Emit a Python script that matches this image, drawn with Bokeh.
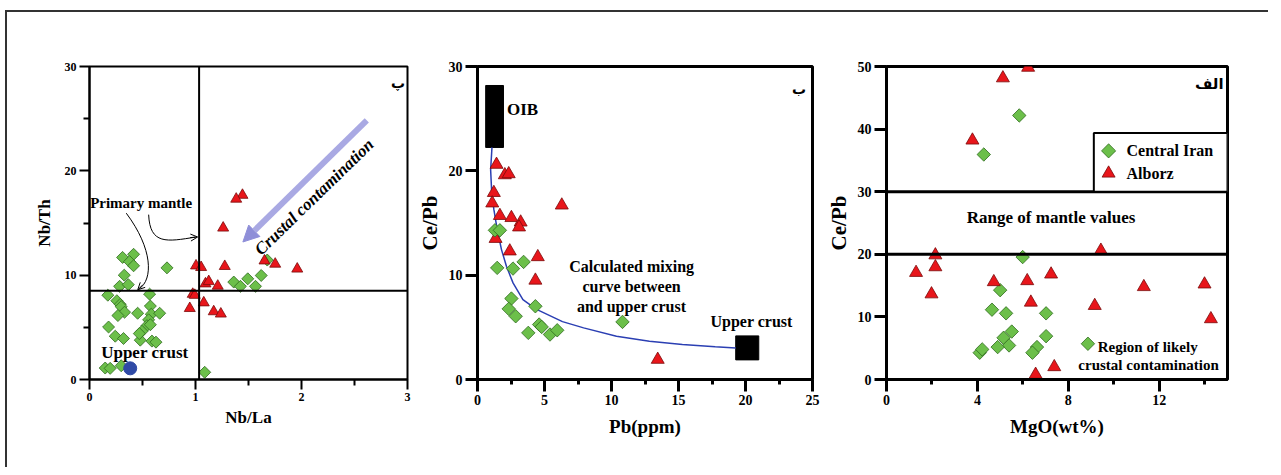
import numpy as np
from bokeh.plotting import figure
from bokeh.layouts import row
from bokeh.models import (FixedTicker, Label, Arrow, NormalHead, OpenHead, Span,
                          BoxAnnotation, Range1d)
from bokeh.embed import file_html
from bokeh.resources import INLINE

SERIF = "Liberation Serif"
GREEN, GREEN_LINE = "#6cbf4a", "#2e6b1e"
RED, RED_LINE = "#e8161b", "#7a0a0a"

# ---------------- Panel پ : Nb/La vs Nb/Th ----------------
p1_ci_nbla = [0.416, 0.312, 0.378, 0.416, 0.731, 0.328, 0.284, 0.366, 0.567, 0.173,
              0.258, 0.290, 0.299, 0.331, 0.268, 0.454, 0.574, 0.583, 0.662, 0.558,
              0.542, 0.574, 0.495, 0.180, 0.243, 0.321, 0.479, 0.589, 0.627, 0.148,
              0.195, 0.299, 1.087, 1.361, 1.424, 1.493, 1.566, 1.620, 1.677, 0.470]
p1_ci_nbth = [12.0, 11.7, 11.3, 10.9, 10.7, 10.0, 8.93, 9.09, 8.18, 8.08,
              7.55, 7.2, 6.98, 6.45, 6.13, 6.35, 7.04, 6.26, 6.35, 5.72,
              5.16, 5.25, 4.62, 5.03, 4.15, 3.93, 3.77, 3.68, 3.58, 1.10,
              1.07, 1.32, 0.69, 9.34, 8.93, 9.65, 8.93, 9.97, 11.45, 4.40]
p1_al_nbla = [1.443, 1.384, 1.261, 1.005, 1.053, 1.276, 1.651, 1.752, 1.960, 1.094,
              1.125, 1.210, 0.974, 0.993, 1.078, 0.946, 1.172, 1.239]
p1_al_nbth = [17.67, 17.3, 14.53, 10.9, 10.75, 10.85, 11.38, 11.07, 10.6, 9.18,
              9.4, 8.96, 8.18, 8.08, 7.36, 6.82, 6.51, 6.29]
p1_crust_nbla = [0.384]
p1_crust_nbth = [1.07]
p1_hline = 8.5
p1_vline = 1.034

# ---------------- Panel ب : Pb vs Ce/Pb ----------------
p2_al_pb = [1.42, 2.04, 2.33, 1.22, 1.10, 6.29, 1.67, 2.53, 3.22, 3.10, 1.35, 2.41,
            4.50, 4.32, 13.45]
p2_al_cepb = [20.6, 19.6, 19.7, 17.9, 16.9, 16.7, 15.7, 15.5, 15.07, 14.6, 13.5, 12.3,
              11.75, 9.5, 1.91]
p2_ci_pb = [1.30, 1.67, 1.47, 2.65, 3.44, 2.53, 2.33, 2.85, 3.79, 4.32, 4.60, 4.79,
            5.41, 5.95, 10.82]
p2_ci_cepb = [14.3, 14.3, 10.7, 10.63, 11.27, 7.76, 6.77, 6.06, 4.47, 7.02, 5.27, 5.04,
              4.31, 4.72, 5.52]
oib_pb = (0.61, 1.94)
oib_cepb = (22.24, 28.18)
uc_pb = (19.27, 20.99)
uc_cepb = (1.88, 4.18)
mix_pb = [1.08, 0.98, 1.05, 1.22, 1.47, 1.79, 2.16, 2.65, 3.39, 4.37, 6.34, 7.92,
          10.37, 12.83, 15.29, 17.74, 19.27]
mix_cepb = [22.25, 20.1, 18.2, 16.3, 14.4, 12.45, 10.85, 9.26, 7.66, 6.75, 5.55, 4.95,
            4.15, 3.67, 3.35, 3.13, 3.03]

# ---------------- Panel الف : MgO vs Ce/Pb ----------------
p3_al_mgo = [6.23, 5.12, 3.78, 2.15, 9.43, 1.30, 2.15, 1.98, 4.72, 6.19, 7.24, 6.35,
             9.16, 11.32, 13.99, 14.27, 7.38, 6.56]
p3_al_cepb = [49.84, 48.15, 38.21, 19.87, 20.61, 17.07, 17.97, 13.64, 15.59, 15.75,
              16.81, 12.32, 11.79, 14.80, 15.22, 9.67, 2.01, 0.79]
p3_ci_mgo = [5.84, 4.28, 5.99, 5.00, 4.64, 5.26, 7.02, 5.51, 5.15, 7.02, 5.39, 4.89,
             6.62, 6.42, 4.10, 4.21, 8.86]
p3_ci_cepb = [42.18, 35.94, 19.56, 14.27, 11.15, 10.57, 10.57, 7.66, 6.66, 6.92, 5.44,
              5.18, 5.18, 4.28, 4.28, 4.81, 5.71]
mantle_range = (20, 30)
legend_labels = ["Central Iran", "Alborz"]

# legend box placement (data units of panel الف)
LEG_BOX = dict(left=9.12, right=15.0, bottom=30.0, top=39.38)
LEG_KEY_X, LEG_TEXT_X = 9.77, 10.56
LEG_ROWS_Y = [36.52, 32.93]


def style(p, lw, tick_px, maj_out, min_out):
    p.outline_line_color = "black"
    p.outline_line_width = lw
    p.xgrid.visible = False
    p.ygrid.visible = False
    p.background_fill_color = "white"
    p.border_fill_color = "white"
    for ax in (p.xaxis[0], p.yaxis[0]):
        ax.axis_line_width = lw
        ax.major_tick_line_width = lw
        ax.minor_tick_line_width = lw
        ax.major_tick_in = 0
        ax.minor_tick_in = 0
        ax.major_tick_out = maj_out
        ax.minor_tick_out = min_out
        ax.major_label_text_font = SERIF
        ax.major_label_text_font_style = "bold"
        ax.major_label_text_font_size = f"{tick_px}px"
        ax.major_label_text_color = "black"
        ax.major_label_standoff = 3
        ax.axis_label_text_font = SERIF
        ax.axis_label_text_font_style = "bold"
        ax.axis_label_text_color = "black"


def lab(p, x, y, text, size, align="left", baseline="middle", style_="bold",
        font=SERIF, angle=0.0):
    p.add_layout(Label(x=x, y=y, text=text, text_font=font, text_font_style=style_,
                       text_font_size=f"{size}px", text_align=align,
                       text_baseline=baseline, angle=angle, text_color="black"))


# ======================= Figure 1 =======================
p1 = figure(width=407, height=455, output_backend="svg", toolbar_location=None,
            x_range=Range1d(0, 3), y_range=Range1d(0, 30),
            min_border_left=82, min_border_right=7, min_border_top=52,
            min_border_bottom=81)
style(p1, 2, 12, 10, 6)
p1.xaxis.ticker = FixedTicker(ticks=[0, 1, 2, 3], minor_ticks=[0.5, 1.5, 2.5])
p1.yaxis.ticker = FixedTicker(ticks=[0, 10, 20, 30], minor_ticks=[5, 15, 25])
p1.xaxis.axis_label = "Nb/La"
p1.yaxis.axis_label = "Nb/Th"
p1.xaxis.axis_label_text_font_size = "17px"
p1.yaxis.axis_label_text_font_size = "17px"
p1.xaxis.axis_label_standoff = 4
p1.yaxis.axis_label_standoff = 8

p1.add_layout(Span(location=p1_hline, dimension="width", line_color="black", line_width=2))
p1.add_layout(Span(location=p1_vline, dimension="height", line_color="black", line_width=2))

p1.scatter(p1_ci_nbla, p1_ci_nbth, marker="square", angle=np.pi / 4, size=8.5,
           fill_color=GREEN, line_color=GREEN_LINE, line_width=0.8)
p1.scatter(p1_al_nbla, p1_al_nbth, marker="triangle", size=11,
           fill_color=RED, line_color=RED_LINE, line_width=0.8)
p1.scatter(p1_crust_nbla, p1_crust_nbth, marker="circle", size=13,
           fill_color="#2f4aa6", line_color="#2f4aa6")

# crustal contamination arrow
p1.add_layout(Arrow(x_start=2.616, y_start=24.84, x_end=1.447, y_end=13.18,
                    line_color="#a9a9e3", line_width=6,
                    end=NormalHead(size=16, fill_color="#8f8fd8", line_color="#8f8fd8")))
lab(p1, 2.12, 17.5, "Crustal contamination", 17, align="center",
    style_="bold italic", angle=0.77)

# primary mantle curves
p1.bezier(x0=[0.347], y0=[15.94], x1=[0.47], y1=[8.7],
          cx0=[0.60], cy0=[12.5], cx1=[0.60], cy1=[9.6],
          line_color="black", line_width=1)
p1.add_layout(Arrow(x_start=0.50, y_start=9.05, x_end=0.455, y_end=8.6,
                    line_color="black", line_width=1,
                    end=OpenHead(size=7, line_color="black", line_width=1)))
p1.bezier(x0=[0.558], y0=[15.8], x1=[1.0], y1=[13.65],
          cx0=[0.57], cy0=[12.9], cx1=[0.73], cy1=[13.2],
          line_color="black", line_width=1)
p1.add_layout(Arrow(x_start=0.95, y_start=13.6, x_end=1.02, y_end=13.66,
                    line_color="black", line_width=1,
                    end=OpenHead(size=7, line_color="black", line_width=1)))

lab(p1, 0.006, 16.9, "Primary mantle", 15)
lab(p1, 0.11, 2.6, "Upper crust", 17)
lab(p1, 2.91, 28.4, "پ", 14, align="center", font="DejaVu Sans")

# ======================= Figure 2 =======================
p2 = figure(width=409, height=455, output_backend="svg", toolbar_location=None,
            x_range=Range1d(0, 25), y_range=Range1d(0, 30),
            min_border_left=59, min_border_right=11, min_border_top=54,
            min_border_bottom=87)
style(p2, 3, 14, 12, 5)
p2.xaxis.ticker = FixedTicker(ticks=[0, 5, 10, 15, 20, 25],
                              minor_ticks=[2.5, 7.5, 12.5, 17.5, 22.5])
p2.yaxis.ticker = FixedTicker(ticks=[0, 10, 20, 30])
p2.yaxis.axis_label = "Ce/Pb"
p2.yaxis.axis_label_text_font_size = "21px"
p2.yaxis.axis_label_standoff = 4
p2.xaxis.axis_label = "Pb(ppm)"
p2.xaxis.axis_label_text_font_size = "19px"
p2.xaxis.axis_label_standoff = 8

p2.quad(left=[oib_pb[0], uc_pb[0]], right=[oib_pb[1], uc_pb[1]],
        bottom=[oib_cepb[0], uc_cepb[0]], top=[oib_cepb[1], uc_cepb[1]],
        fill_color="black", line_color="black")
p2.line(mix_pb, mix_cepb, line_color="#2b3fb3", line_width=1.5)
p2.scatter(p2_al_pb, p2_al_cepb, marker="triangle", size=13,
           fill_color=RED, line_color=RED_LINE, line_width=0.8)
p2.scatter(p2_ci_pb, p2_ci_cepb, marker="square", angle=np.pi / 4, size=9.5,
           fill_color=GREEN, line_color=GREEN_LINE, line_width=0.8)

lab(p2, 2.2, 25.85, "OIB", 17)
lab(p2, 20.45, 5.55, "Upper crust", 16, align="center")
lab(p2, 11.5, 10.85, "Calculated mixing", 16, align="center")
lab(p2, 11.5, 8.9, "curve between", 16, align="center")
lab(p2, 11.5, 6.97, "and upper crust", 16, align="center")
lab(p2, 24.0, 27.8, "ب", 14, align="center", font="DejaVu Sans")

# ======================= Figure 3 =======================
p3 = figure(width=445, height=455, output_backend="svg", toolbar_location=None,
            x_range=Range1d(0, 15), y_range=Range1d(0, 50),
            min_border_left=58, min_border_right=41, min_border_top=50,
            min_border_bottom=88)
style(p3, 3, 14, 12, 5)
p3.xaxis.ticker = FixedTicker(ticks=[0, 4, 8, 12], minor_ticks=[2, 6, 10, 14])
p3.yaxis.ticker = FixedTicker(ticks=[0, 10, 20, 30, 40, 50])
p3.yaxis.axis_label = "Ce/Pb"
p3.yaxis.axis_label_text_font_size = "21px"
p3.yaxis.axis_label_standoff = 4
p3.xaxis.axis_label = "MgO(wt%)"
p3.xaxis.axis_label_text_font_size = "19px"
p3.xaxis.axis_label_standoff = 8

for yv in mantle_range:
    p3.add_layout(Span(location=yv, dimension="width", line_color="black", line_width=3))

p3.scatter(p3_ci_mgo, p3_ci_cepb, marker="square", angle=np.pi / 4, size=9.5,
           fill_color=GREEN, line_color=GREEN_LINE, line_width=0.8)
p3.scatter(p3_al_mgo, p3_al_cepb, marker="triangle", size=13,
           fill_color=RED, line_color=RED_LINE, line_width=0.8)

# legend (box, keys and labels)
p3.add_layout(BoxAnnotation(**LEG_BOX, fill_color="white", fill_alpha=1.0,
                            line_color="black", line_width=2, line_alpha=1.0))
p3.scatter([LEG_KEY_X], [LEG_ROWS_Y[0]], marker="square", angle=np.pi / 4, size=10,
           fill_color=GREEN, line_color=GREEN_LINE, line_width=0.8, level="overlay")
p3.scatter([LEG_KEY_X], [LEG_ROWS_Y[1]], marker="triangle", size=13,
           fill_color=RED, line_color=RED_LINE, line_width=0.8, level="overlay")
for txt, yv in zip(legend_labels, LEG_ROWS_Y):
    lab(p3, LEG_TEXT_X, yv, txt, 16)

lab(p3, 7.24, 25.9, "Range of mantle values", 17, align="center")
lab(p3, 9.29, 5.2, "Region of likely", 15)
lab(p3, 8.44, 2.3, "crustal contamination", 15)
lab(p3, 14.2, 47.2, "الف", 15, align="center", font="DejaVu Sans")

layout = row(p1, p2, p3, styles={"border-left": "2px solid #333",
                                 "border-top": "2px solid #333",
                                 "margin-left": "5px", "margin-top": "10px"})

open("out.html", "w").write(file_html(layout, INLINE))
